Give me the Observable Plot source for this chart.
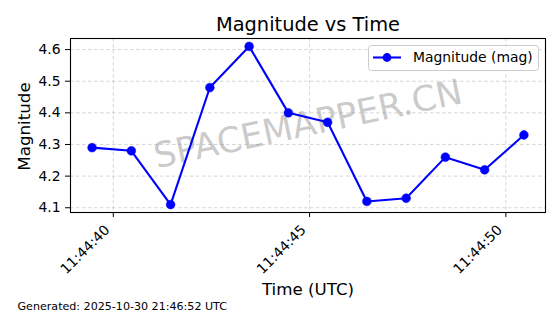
<!DOCTYPE html>
<html>
<head>
<meta charset="utf-8">
<script src="https://cdn.jsdelivr.net/npm/d3@7"></script>
<script src="https://cdn.jsdelivr.net/npm/@observablehq/plot@0.6"></script>
<style>
  html, body { margin: 0; padding: 0; background: #fff; }
  #chart svg { display: block; font-family: "DejaVu Sans", sans-serif; }
</style>
</head>
<body>
<div id="chart"></div>
<script>
// ---- data ----
const times = [
  "2025-10-30T11:44:39.460Z", "2025-10-30T11:44:40.460Z", "2025-10-30T11:44:41.460Z",
  "2025-10-30T11:44:42.460Z", "2025-10-30T11:44:43.460Z", "2025-10-30T11:44:44.460Z",
  "2025-10-30T11:44:45.460Z", "2025-10-30T11:44:46.460Z", "2025-10-30T11:44:47.460Z",
  "2025-10-30T11:44:48.460Z", "2025-10-30T11:44:49.460Z", "2025-10-30T11:44:50.460Z"
];
const magnitudes = [4.29, 4.28, 4.11, 4.48, 4.61, 4.40, 4.37, 4.12, 4.13, 4.26, 4.22, 4.33];
const xTickLabels = ["11:44:40", "11:44:45", "11:44:50"];
const yTicks = [4.1, 4.2, 4.3, 4.4, 4.5, 4.6];
const titleText = "Magnitude vs Time";
const xLabel = "Time (UTC)";
const yLabel = "Magnitude";
const legendLabel = "Magnitude (mag)";
const watermark = "SPACEMAPPER.CN";
const footer = "Generated: 2025-10-30 21:46:52 UTC";

// ---- derived ----
const data = times.map((t, i) => ({time: new Date(t), mag: magnitudes[i]}));
const xTicks = xTickLabels.map(s => new Date(`2025-10-30T${s}Z`));
const tExt = d3.extent(data, d => +d.time);
const tPad = (tExt[1] - tExt[0]) * 0.05;
const yExt = d3.extent(magnitudes);
const yPad = (yExt[1] - yExt[0]) * 0.05;

const blue = "#0000ff";
const gridStyle = {stroke: "#b0b0b0", strokeOpacity: 0.65, strokeDasharray: "3.5,2.5", strokeWidth: 0.8};

const chart = Plot.plot({
  width: 560,
  height: 314,
  marginLeft: 70,
  marginRight: 15,
  marginTop: 38,
  marginBottom: 102,
  style: {fontFamily: "DejaVu Sans, sans-serif", background: "white", color: "black"},
  x: {type: "utc", domain: [new Date(tExt[0] - tPad), new Date(tExt[1] + tPad)]},
  y: {domain: [yExt[0] - yPad, yExt[1] + yPad]},
  marks: [
    Plot.gridX(xTicks, {...gridStyle}),
    Plot.gridY(yTicks, {...gridStyle}),
    Plot.text([watermark], {frameAnchor: "middle", text: d => d, rotate: -12, fontSize: 35,
      fill: "#808080", fillOpacity: 0.42, dx: 0, dy: -1}),
    Plot.axisY(yTicks, {tickSize: 5, tickPadding: 5, fontSize: 13.9, tickFormat: d3.format(".1f"), label: null}),
    Plot.axisX(xTicks, {tickSize: 5, tickFormat: () => "", label: null}),
    Plot.text(xTicks, {x: d => d, text: (d, i) => xTickLabels[i], frameAnchor: "bottom",
      rotate: -45, textAnchor: "end", lineAnchor: "middle", dx: -6, dy: 15, fontSize: 13.9}),
    Plot.line(data, {x: "time", y: "mag", stroke: blue, strokeWidth: 2.1}),
    Plot.dot(data, {x: "time", y: "mag", r: 4.4, fill: blue, stroke: blue, strokeWidth: 0.5}),
    Plot.frame({stroke: "black", strokeWidth: 1.1}),
    Plot.text([titleText], {frameAnchor: "top", text: d => d, lineAnchor: "bottom", dy: -8, fontSize: 19.4}),
    Plot.text([xLabel], {frameAnchor: "bottom", text: d => d, lineAnchor: "bottom", dy: 82, dx: 0, fontSize: 16.7}),
    Plot.text([yLabel], {frameAnchor: "left", text: d => d, rotate: -90, textAnchor: "middle", lineAnchor: "middle", dx: -46, dy: 1, fontSize: 16.7}),
    Plot.text([footer], {frameAnchor: "bottom-left", text: d => d, textAnchor: "start", lineAnchor: "bottom", dx: -53, dy: 97, fontSize: 11.1})
  ]
});

// legend
const svg = d3.select(chart);
const lg = svg.append("g").attr("class", "legend");
lg.append("rect").attr("x", 368.5).attr("y", 45.5).attr("width", 170).attr("height", 25)
  .attr("rx", 3).attr("fill", "white").attr("fill-opacity", 0.8).attr("stroke", "#cccccc").attr("stroke-width", 1);
lg.append("line").attr("x1", 373).attr("x2", 401).attr("y1", 57.5).attr("y2", 57.5)
  .attr("stroke", blue).attr("stroke-width", 2.1);
lg.append("circle").attr("cx", 387).attr("cy", 57.5).attr("r", 4.4).attr("fill", blue);
lg.append("text").attr("x", 413).attr("y", 57.5).attr("dy", "0.35em").attr("font-size", 13.9)
  .attr("text-anchor", "start").attr("fill", "black").text(legendLabel);

document.getElementById("chart").appendChild(chart);
</script>
</body>
</html>
